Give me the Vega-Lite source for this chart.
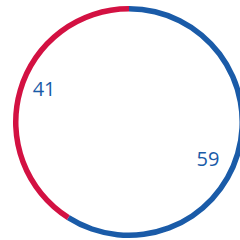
{
  "$schema": "https://vega.github.io/schema/vega-lite/v6.json",
  "autosize": "none",
  "padding": 0,
  "width": 258,
  "height": 244,
  "background": "white",
  "config": {"view": {"stroke": null}},
  "data": {"values": [
    {"cat": "A", "value": 59, "idx": 1},
    {"cat": "B", "value": 41, "idx": 2}
  ]},
  "encoding": {
    "order": {"field": "idx", "type": "quantitative"}
  },
  "layer": [
    {
      "mark": {"type": "arc", "outerRadius": 116, "innerRadius": 110.5},
      "encoding": {
        "theta": {"field": "value", "type": "quantitative", "stack": true},
        "color": {"field": "cat", "type": "nominal", "legend": null,
          "scale": {"domain": ["A", "B"], "range": ["#1a5ba8", "#d31142"]}}
      }
    },
    {
      "mark": {"type": "text", "radius": 89, "dx": -3, "dy": 3, "fontSize": 20, "font": "Open Sans", "fontWeight": 500, "color": "#1a5ba8", "align": "center", "baseline": "middle"},
      "encoding": {
        "theta": {"field": "value", "type": "quantitative", "stack": true,
          "scale": {"range": [0.119, 6.402]}},
        "text": {"field": "value", "type": "quantitative"}
      }
    }
  ],
  "resolve": {"scale": {"theta": "independent"}}
}
